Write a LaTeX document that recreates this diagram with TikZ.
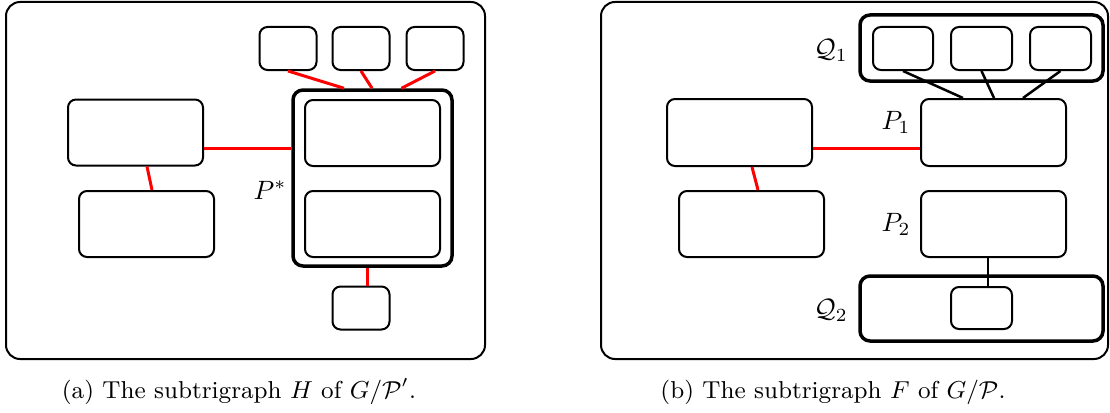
\documentclass[tikz,border=0pt]{standalone}
\usetikzlibrary{calc}
\begin{document}
\begin{tikzpicture}[x=1pt,y=-1pt,
  box/.style={draw, rectangle, rounded corners=8pt, line width=2pt, inner sep=0pt},
  part/.style={draw, rectangle, rounded corners=10pt, line width=3.5pt, inner sep=0pt},
  frame/.style={draw, rectangle, rounded corners=14pt, line width=2pt, inner sep=0pt},
  redge/.style={draw=red, line width=3pt},
  bedge/.style={draw=black, line width=2.5pt},
  lab/.style={inner sep=0pt, scale=2.65, transform shape},
  captext/.style={inner sep=0pt, scale=2.72, transform shape, anchor=base, font=\small},
  bigbox/.style={box, minimum width=135pt, minimum height=66pt},
  widebox/.style={box, minimum width=145pt, minimum height=66pt},
  smallbox/.style={box, minimum width=57pt, minimum height=43pt}
]
\useasboundingbox (0,0) rectangle (1110,412);

% ---------- (a) the subtrigraph H ----------
\node[frame, minimum width=479pt, minimum height=357pt] (frA) at (245.5,180.5) {};

\node[smallbox] (a1) at (288,48.5) {};
\node[smallbox] (a2) at (361,48.5) {};
\node[smallbox] (a3) at (435,48.5) {};
\node[part, minimum width=159pt, minimum height=176pt] (Pst) at (372.5,178) {};
\node[bigbox] (pin1) at (372.5,133) {};
\node[bigbox] (pin2) at (372.5,224) {};
\node[smallbox] (a4) at (361,308) {};
\node[bigbox] (L1) at (135.5,132.5) {};
\node[bigbox] (L2) at (146.5,224) {};

\node[lab] (lPst) at (270,190) {$P^*$};

\draw[redge] ([yshift=-15.5pt]L1.east) -- ([yshift=-15.5pt]L1.east -| Pst.west);
\draw[redge] ([xshift=11.5pt]L1.south) -- ([xshift=5.5pt]L2.north);
\draw[redge] (a1.south) -- ([xshift=-28.5pt]Pst.north);
\draw[redge] (a2.south) -- ([xshift=-0.5pt]Pst.north);
\draw[redge] (a3.south) -- ([xshift=29pt]Pst.north);
\draw[redge] ([xshift=6pt]a4.north) -- ([xshift=6pt]a4.north |- Pst.south);

\node[captext] (capA) at (239,398) {(a) The subtrigraph $H$ of $G/\mathcal{P}'$.};

% ---------- (b) the subtrigraph F ----------
\node[frame, minimum width=507pt, minimum height=357pt] (frB) at (854.5,180.5) {};

\node[part, minimum width=243pt, minimum height=66pt] (Q1) at (981.5,48) {};
\node[smallbox, minimum width=60pt] (q1a) at (903,48.5) {};
\node[smallbox, minimum width=61pt] (q1b) at (981.5,48.5) {};
\node[smallbox, minimum width=61pt] (q1c) at (1060.5,48.5) {};
\node[widebox, minimum height=67pt] (P1) at (993.5,132.5) {};
\node[widebox] (P2) at (993.5,224) {};
\node[part, minimum width=243pt, minimum height=65pt] (Q2) at (981.5,308.5) {};
\node[smallbox, minimum width=61pt, minimum height=42pt] (q2a) at (981.5,308) {};
\node[widebox, minimum height=67pt] (M1) at (739.5,132.5) {};
\node[widebox] (M2) at (751.5,224) {};

\node[lab] (lQ1) at (831,50) {$\mathcal{Q}_1$};
\node[lab] (lP1) at (896,122) {$P_1$};
\node[lab] (lP2) at (896,224) {$P_2$};
\node[lab] (lQ2) at (831,310) {$\mathcal{Q}_2$};

\draw[redge] ([yshift=-15.5pt]M1.east) -- ([yshift=-15.5pt]M1.east -| P1.west);
\draw[redge] ([xshift=12.5pt]M1.south) -- ([xshift=6.5pt]M2.north);
\draw[bedge] (q1a.south) -- ([xshift=-30.5pt]P1.north);
\draw[bedge] (q1b.south) -- ([xshift=0.5pt]P1.north);
\draw[bedge] (q1c.south) -- ([xshift=29.5pt]P1.north);
\draw[bedge] ([xshift=-5.5pt]P2.south) -- ([xshift=-5.5pt]P2.south |- q2a.north);

\node[captext] (capB) at (833,398) {(b) The subtrigraph $F$ of $G/\mathcal{P}$.};
\end{tikzpicture}
\end{document}
